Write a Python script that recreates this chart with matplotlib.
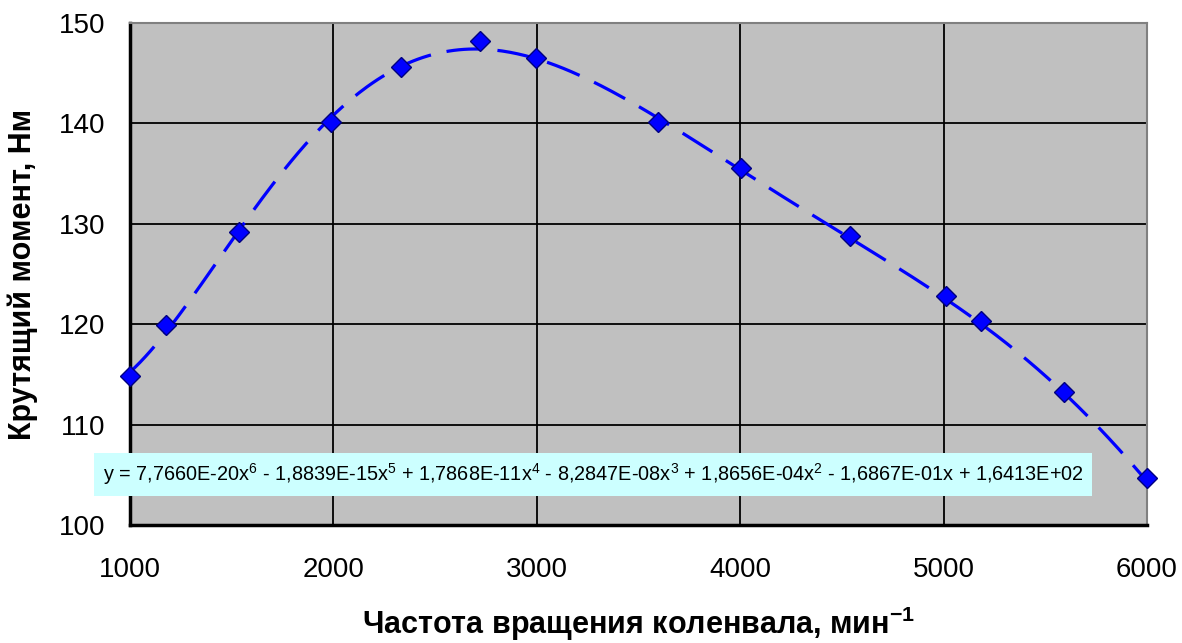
import numpy as np
import matplotlib.pyplot as plt

plt.rcParams['font.family'] = ['Liberation Sans', 'DejaVu Sans']
plt.rcParams['mathtext.fontset'] = 'custom'
plt.rcParams['mathtext.rm'] = 'Liberation Sans'
plt.rcParams['mathtext.it'] = 'Liberation Sans'
plt.rcParams['mathtext.bf'] = 'Liberation Sans:bold'

# частота вращения, мин^-1 и крутящий момент, Нм
rpm = [1000, 1175, 1537, 1986, 2332, 2720, 2995, 3598, 4005, 4538, 5013, 5182, 5590, 6000]
torque = [114.8, 119.9, 129.2, 140.1, 145.65, 148.2, 146.5, 140.1, 135.55, 128.8, 122.8, 120.35, 113.2, 104.7]

# коэффициенты полиномиальной линии тренда (6-я степень)
coef = [7.7660E-20, -1.8839E-15, 1.7868E-11, -8.2847E-08, 1.8656E-04, -1.6867E-01, 1.6413E+02]
eq_text = ('y = 7,7660E-20x$^{6}$ - 1,8839E-15x$^{5}$ + 1,7868E-11x$^{4}$ - 8,2847E-08x$^{3}$'
           ' + 1,8656E-04x$^{2}$ - 1,6867E-01x + 1,6413E+02')

x_ticks = [1000, 2000, 3000, 4000, 5000, 6000]
y_ticks = [100, 110, 120, 130, 140, 150]

fig = plt.figure(figsize=(11.82, 6.43), dpi=100)
ax = fig.add_axes([0.110, 0.1835, 0.8604, 0.7807])
ax.set_facecolor('#C0C0C0')

xs = np.linspace(rpm[0], rpm[-1], 400)
ax.plot(xs, np.polyval(coef, xs), color='#0000FF', lw=2.3, dashes=(11, 5), zorder=3)
ax.plot(rpm, torque, linestyle='none', marker='D', ms=10, mfc='#0000FF',
        mec='#000080', mew=1, zorder=4, clip_on=False)

ax.set_xlim(1000, 6000)
ax.set_ylim(100, 150)
ax.set_xticks(x_ticks)
ax.set_yticks(y_ticks)
ax.grid(True, color='black', lw=1.3)
ax.set_axisbelow(True)
ax.tick_params(length=0, labelsize=20)
ax.tick_params(axis='x', pad=23)
ax.tick_params(axis='y', pad=18)

for side in ['left', 'bottom']:
    ax.spines[side].set_linewidth(2.5)
    ax.spines[side].set_color('black')
for side in ['top', 'right']:
    ax.spines[side].set_linewidth(1.5)
    ax.spines[side].set_color('#808080')

ax.set_ylabel('Крутящий момент, Нм', fontsize=22, fontweight='bold')
ax.yaxis.set_label_coords(-0.0905, 0.5)
ax.set_xlabel('Частота вращения коленвала, мин$^{\\mathbf{-1}}$', fontsize=22, fontweight='bold')
ax.xaxis.set_label_coords(0.5, -0.158)

ax.text(-0.027, 0.1006, eq_text, transform=ax.transAxes, fontsize=14.3, va='center', ha='left',
        bbox=dict(boxstyle='square,pad=0.45', fc='#CCFFFF', ec='none'), zorder=5, clip_on=False)

fig.savefig('out.png', dpi=100)
